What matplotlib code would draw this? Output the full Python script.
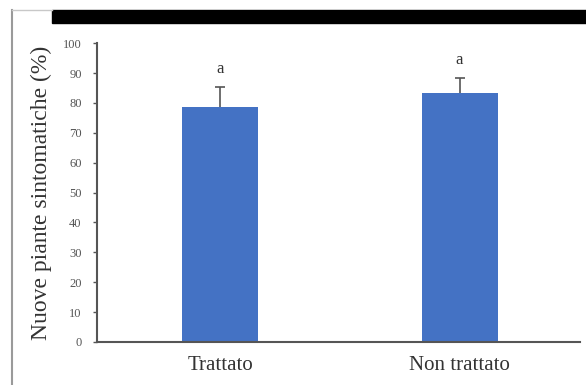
import matplotlib.pyplot as plt
from matplotlib.lines import Line2D
from matplotlib.patches import Rectangle

categories = ["Trattato", "Non trattato"]
values = [78.5, 83.2]
errors = [6.7, 5.0]
letters = ["a", "a"]
yticks = [0, 10, 20, 30, 40, 50, 60, 70, 80, 90, 100]

plt.rcParams["font.family"] = ["Liberation Serif", "DejaVu Serif"]

fig = plt.figure(figsize=(5.86, 3.85), dpi=100)
ax = fig.add_axes([0.1655, 0.1117, 0.8243, 0.7763])

# frame around the figure: grey line left/top-left, black band on top
fig.add_artist(Line2D([12 / 586, 12 / 586], [0, 1 - 10 / 385],
                      transform=fig.transFigure, color="#9a9a9a", lw=1.5))
fig.add_artist(Line2D([12 / 586, 52 / 586], [1 - 10 / 385, 1 - 10 / 385],
                      transform=fig.transFigure, color="#c8c8c8", lw=1.0))
fig.add_artist(Rectangle((52 / 586, 1 - 23 / 385), 1 - 52 / 586, 13 / 385,
                         transform=fig.transFigure, color="black"))

x = range(len(categories))
ax.bar(x, values, width=0.317, color="#4472C4", zorder=2)
eb = ax.errorbar(x, values, yerr=[[0, 0], errors], fmt="none",
                 ecolor="#555555", elinewidth=1.2, capsize=3.5, capthick=1.2,
                 zorder=3)
# only the upper whisker gets a cap
eb[1][0].set_visible(False)

for xi, v, e, lt in zip(x, values, errors, letters):
    ax.text(xi, v + e + 3.5, lt, ha="center", va="bottom",
            fontsize=12, color="#333333")

ax.set_xlim(-0.514, 1.503)
ax.set_ylim(0, 100)
ax.set_yticks(yticks)
ax.set_xticks(list(x))
ax.set_xticklabels(categories, fontsize=15, color="#333333")
ax.tick_params(axis="x", length=0, pad=10)
ax.tick_params(axis="y", labelsize=9, labelcolor="#555555", length=3,
               width=1, color="#555555", pad=8)
ax.set_ylabel("Nuove piante sintomatiche (%)", fontsize=17,
              color="#333333", labelpad=8)

for s in ["top", "right"]:
    ax.spines[s].set_visible(False)
for s in ["left", "bottom"]:
    ax.spines[s].set_color("#555555")
    ax.spines[s].set_linewidth(1.5)

fig.savefig("out.png", dpi=100)
